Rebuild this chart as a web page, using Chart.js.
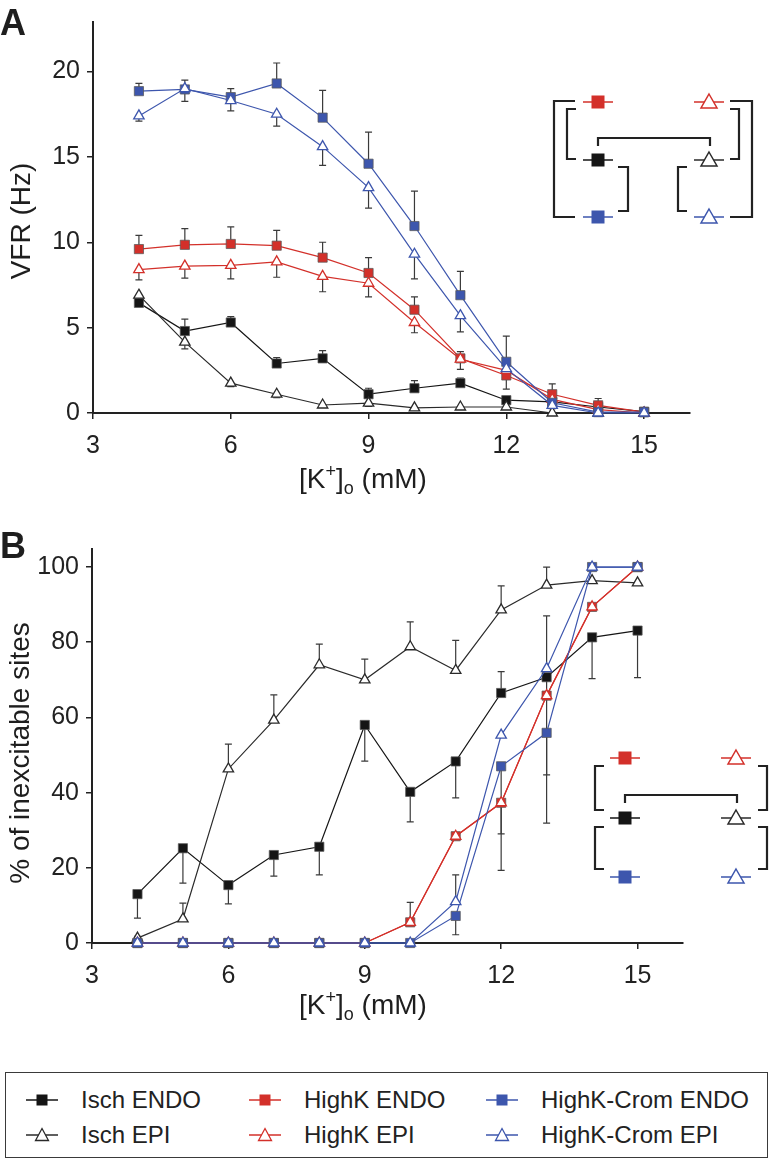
<!DOCTYPE html>
<html>
<head>
<meta charset="utf-8">
<script src="https://cdn.jsdelivr.net/npm/chart.js@4.4.1/dist/chart.umd.min.js"></script>
<style>
  html, body { margin: 0; padding: 0; background: #fff; }
  #page { position: relative; width: 773px; height: 1160px; overflow: hidden;
          font-family: "Liberation Sans", Arial, Helvetica, sans-serif; color: #222; }
  #chartA { position: absolute; left: 0; top: 0; }
  #chartB { position: absolute; left: 0; top: 500px; }
  #legend { position: absolute; left: 5px; top: 1072px; width: 763px; height: 86px;
            box-sizing: border-box; border: 1.5px solid #3a3a3a; padding: 9px 0 0 20px;
            display: grid; grid-template-columns: 223px 237px auto; grid-template-rows: 35px 35px;
            grid-auto-flow: row; }
  .item { display: flex; align-items: center; gap: 23px; font-size: 24px; white-space: nowrap; }
  .item svg { flex: none; }
</style>
</head>
<body>
<div id="page">
  <canvas id="chartA" width="773" height="500"></canvas>
  <canvas id="chartB" width="773" height="530"></canvas>
  <div id="legend"></div>
</div>
<script>
(function() {

  var FONT = '"Liberation Sans", Arial, Helvetica, sans-serif';

  var kValues = [4, 5, 6, 7, 8, 9, 10, 11, 12, 13, 14, 15];
  var kTicks = [3, 6, 9, 12, 15];
  var vfrTicks = [0, 5, 10, 15, 20];
  var pctTicks = [0, 20, 40, 60, 80, 100];

  var seriesNames = ['Isch ENDO', 'Isch EPI', 'HighK ENDO', 'HighK EPI', 'HighK-Crom ENDO', 'HighK-Crom EPI'];
  var seriesColors = ['#151515', '#2a2a2a', '#d3302a', '#d3302a', '#3d56ad', '#3d56ad'];
  var seriesShapes = ['rect', 'triangle', 'rect', 'triangle', 'rect', 'triangle'];
  var seriesOrder = [6, 5, 4, 3, 2, 1];

  // A: VFR (Hz)
  var vfrIschEndo  = [6.45, 4.8, 5.3, 2.9, 3.2, 1.1, 1.45, 1.75, 0.75, 0.65, 0.35, 0.08];
  var vfrIschEpi   = [6.9, 4.15, 1.75, 1.1, 0.47, 0.58, 0.3, 0.35, 0.35, 0, 0, 0];
  var vfrHighKEndo = [9.6, 9.85, 9.9, 9.8, 9.1, 8.2, 6.05, 3.2, 2.2, 1.1, 0.45, 0.05];
  var vfrHighKEpi  = [8.4, 8.6, 8.65, 8.85, 8.0, 7.6, 5.3, 3.15, 2.5, 0.8, 0.2, 0];
  var vfrCromEndo  = [18.85, 18.95, 18.5, 19.3, 17.3, 14.6, 10.95, 6.9, 3.0, 0.6, 0.05, 0.05];
  var vfrCromEpi   = [17.4, 19.0, 18.3, 17.5, 15.6, 13.2, 9.3, 5.7, 2.6, 0.45, 0, 0];
  // error bars (sem), + drawn upward, - drawn downward
  var vfrIschEndoErr  = [0.2, 0.7, 0.35, 0.35, 0.45, 0.35, 0.45, 0.3, 0.2, 0.1, 0.1, 0];
  var vfrIschEpiErr   = [-0.3, -0.4, -0.2, -0.2, -0.1, -0.2, -0.1, -0.1, -0.1, 0, 0, 0];
  var vfrHighKEndoErr = [0.8, 0.95, 1.0, 0.9, 0.9, 0.9, 0.75, 0.4, 0.4, 0.6, 0.4, 0];
  var vfrHighKEpiErr  = [-0.6, -0.7, -0.8, -0.9, -0.9, -0.8, -0.6, -0.6, -1.1, -0.3, -0.1, 0];
  var vfrCromEndoErr  = [0.45, 0.55, 0.5, 1.2, 1.6, 1.85, 2.05, 1.4, 1.5, 0.3, 0.1, 0];
  var vfrCromEpiErr   = [-0.3, -0.75, -0.6, -0.7, -1.1, -1.2, -1.45, -0.95, -0.5, -0.2, 0, 0];

  // B: % of inexcitable sites
  var pctIschEndo  = [13.0, 25.2, 15.4, 23.4, 25.6, 58.0, 40.2, 48.3, 66.5, 70.7, 81.3, 83.1];
  var pctIschEpi   = [1.3, 6.4, 46.3, 59.3, 74.0, 70.0, 78.8, 72.5, 88.6, 95.2, 96.4, 95.8];
  var pctHighKEndo = [0, 0, 0, 0, 0, 0, 5.5, 28.4, 37.3, 65.8, 89.4, 100];
  var pctHighKEpi  = [0, 0, 0, 0, 0, 0, 5.5, 28.4, 37.3, 65.8, 89.4, 100];
  var pctCromEndo  = [0, 0, 0, 0, 0, 0, 0, 7.2, 47.0, 55.9, 100, 100];
  var pctCromEpi   = [0, 0, 0, 0, 0, 0, 0, 11.0, 55.3, 73.0, 100, 100];
  var pctIschEndoErr  = [-6.4, -9.3, -5.0, -5.6, -7.5, -9.6, -8.0, -9.7, 5.7, -26.0, -11.0, -12.5];
  var pctIschEpiErr   = [0.5, 4.2, 6.6, 6.7, 5.5, 5.5, 6.6, 8.0, 6.4, 4.8, 0, 0];
  var pctHighKEndoErr = [0, 0, 0, 0, 0, 0, 5.3, 0, -18.0, 0, 0, 0];
  var pctHighKEpiErr  = [0, 0, 0, 0, 0, 0, 0, 0, 0, 0, 0, 0];
  var pctCromEndoErr  = [0, 0, 0, 0, 0, 0, 0, -5.0, -18.0, -24.0, 0, 0];
  var pctCromEpiErr   = [0, 0, 0, 0, 0, 0, 0, 7.1, 0, 14.0, 0, 0];

  function toPoints(values) {
    return kValues.map(function(k, i) { return { x: k, y: values[i] }; });
  }

  function makeDataset(i, values, errors) {
    var isRect = seriesShapes[i] === 'rect';
    return {
      label: seriesNames[i],
      data: toPoints(values),
      errors: errors,
      order: seriesOrder[i],
      borderColor: seriesColors[i],
      borderWidth: 1.2,
      tension: 0,
      clip: false,
      pointStyle: seriesShapes[i],
      pointRadius: isRect ? 6.5 : 6,
      pointBorderWidth: isRect ? 1 : 1.3,
      pointBackgroundColor: isRect ? seriesColors[i] : '#ffffff',
      pointBorderColor: isRect ? 'rgba(90,90,90,0.75)' : seriesColors[i]
    };
  }

  var errorBars = {
    id: 'errorBars',
    beforeDatasetsDraw: function(chart) {
      var ctx = chart.ctx;
      var yScale = chart.scales.y;
      ctx.save();
      ctx.strokeStyle = '#3a3a3a';
      ctx.lineWidth = 1.2;
      chart.data.datasets.forEach(function(ds, i) {
        if (!ds.errors) return;
        var meta = chart.getDatasetMeta(i);
        meta.data.forEach(function(pt, j) {
          var e = ds.errors[j];
          if (!e) return;
          var y1 = yScale.getPixelForValue(ds.data[j].y + e);
          ctx.beginPath();
          ctx.moveTo(pt.x, pt.y);
          ctx.lineTo(pt.x, y1);
          ctx.moveTo(pt.x - 3.5, y1);
          ctx.lineTo(pt.x + 3.5, y1);
          ctx.stroke();
        });
      });
      ctx.restore();
    }
  };

  function drawKTitle(ctx, cx, baseline) {
    var parts = [
      { t: '[K', size: 28, dy: 0 },
      { t: '+', size: 18, dy: -11 },
      { t: ']', size: 28, dy: 0 },
      { t: 'o', size: 18, dy: 6 },
      { t: ' (mM)', size: 28, dy: 0 }
    ];
    var total = 0;
    parts.forEach(function(p) {
      ctx.font = p.size + 'px ' + FONT;
      p.w = ctx.measureText(p.t).width;
      total += p.w;
    });
    var x = cx - total / 2;
    ctx.textAlign = 'left';
    ctx.textBaseline = 'alphabetic';
    parts.forEach(function(p) {
      ctx.font = p.size + 'px ' + FONT;
      ctx.fillText(p.t, x, baseline + p.dy);
      x += p.w;
    });
  }

  var axisTitles = {
    id: 'axisTitles',
    afterDraw: function(chart, args, opts) {
      var ctx = chart.ctx;
      ctx.save();
      ctx.fillStyle = '#1e1e1e';
      ctx.font = 'bold 36px ' + FONT;
      ctx.textAlign = 'left';
      ctx.textBaseline = 'alphabetic';
      ctx.fillText(opts.letter, 0, opts.letterY);

      ctx.save();
      ctx.font = '28px ' + FONT;
      ctx.translate(opts.yTitleX, opts.yTitleY);
      ctx.rotate(-Math.PI / 2);
      ctx.textAlign = 'center';
      ctx.textBaseline = 'middle';
      ctx.fillText(opts.yTitle, 0, 0);
      ctx.restore();

      drawKTitle(ctx, opts.xTitleX, opts.xTitleY);
      ctx.restore();
    }
  };

  // small key of symbols with comparison brackets inside each panel
  var keyRow = [1, 1, 0, 0, 2, 2];
  var keyCol = [0, 1, 0, 1, 0, 1];

  var insetKey = {
    id: 'insetKey',
    afterDraw: function(chart, args, opts) {
      if (!opts.cols) return;
      var ctx = chart.ctx;
      ctx.save();
      ctx.strokeStyle = '#222';
      ctx.lineWidth = 2.2;
      ctx.lineJoin = 'miter';
      opts.brackets.forEach(function(b) {
        ctx.beginPath();
        b.forEach(function(p, i) {
          if (i === 0) ctx.moveTo(p[0], p[1]); else ctx.lineTo(p[0], p[1]);
        });
        ctx.stroke();
      });
      seriesNames.forEach(function(name, i) {
        var x = opts.cols[keyCol[i]];
        var y = opts.rows[keyRow[i]];
        var c = seriesColors[i];
        ctx.strokeStyle = c;
        ctx.lineWidth = 1.5;
        ctx.beginPath();
        ctx.moveTo(x - 15, y);
        ctx.lineTo(x + 15, y);
        ctx.stroke();
        if (seriesShapes[i] === 'rect') {
          ctx.fillStyle = c;
          ctx.fillRect(x - 6.5, y - 6.5, 13, 13);
        } else {
          ctx.fillStyle = '#fff';
          ctx.lineWidth = 1.5;
          ctx.beginPath();
          ctx.moveTo(x, y - 8);
          ctx.lineTo(x + 8, y + 6);
          ctx.lineTo(x - 8, y + 6);
          ctx.closePath();
          ctx.fill();
          ctx.stroke();
        }
      });
      ctx.restore();
    }
  };

  function buildChart(canvasId, cfg) {
    var datasets = cfg.values.map(function(vals, i) { return makeDataset(i, vals, cfg.errors[i]); });
    return new Chart(document.getElementById(canvasId), {
      type: 'line',
      data: { datasets: datasets },
      options: {
        responsive: false,
        animation: false,
        layout: { padding: { top: cfg.top, right: cfg.right, left: 0, bottom: 0 } },
        plugins: {
          legend: { display: false },
          tooltip: { enabled: false },
          axisTitles: cfg.titles,
          insetKey: cfg.inset
        },
        scales: {
          x: {
            type: 'linear',
            min: 3,
            max: 16,
            afterBuildTicks: function(s) { s.ticks = kTicks.map(function(v) { return { value: v }; }); },
            afterFit: function(s) { s.height = cfg.xAxisHeight; },
            grid: { display: true, drawOnChartArea: false, drawTicks: true, tickLength: 6, color: '#222', lineWidth: 1.5 },
            border: { display: true, color: '#222', width: 2 },
            ticks: { font: { family: FONT, size: 25 }, color: '#222', padding: 12, maxRotation: 0, autoSkip: false }
          },
          y: {
            type: 'linear',
            min: 0,
            max: cfg.yMax,
            afterBuildTicks: function(s) { s.ticks = cfg.yTicks.map(function(v) { return { value: v }; }); },
            afterFit: function(s) { s.width = cfg.yAxisWidth; },
            grid: { display: true, drawOnChartArea: false, drawTicks: true, tickLength: 6, color: '#222', lineWidth: 1.5 },
            border: { display: true, color: '#222', width: 2 },
            ticks: { font: { family: FONT, size: 25 }, color: '#222', padding: 7, autoSkip: false }
          }
        }
      },
      plugins: [errorBars, axisTitles, insetKey]
    });
  }

  buildChart('chartA', {
    values: [vfrIschEndo, vfrIschEpi, vfrHighKEndo, vfrHighKEpi, vfrCromEndo, vfrCromEpi],
    errors: [vfrIschEndoErr, vfrIschEpiErr, vfrHighKEndoErr, vfrHighKEpiErr, vfrCromEndoErr, vfrCromEpiErr],
    yMax: 22.9,
    yTicks: vfrTicks,
    top: 20,
    right: 83,
    yAxisWidth: 93,
    xAxisHeight: 87,
    titles: { letter: 'A', letterY: 35, yTitle: 'VFR (Hz)', yTitleX: 22, yTitleY: 221, xTitleX: 363, xTitleY: 488 },
    inset: {
      cols: [598, 709],
      rows: [102, 160, 217],
      brackets: [
        [[575, 101], [554, 101], [554, 217], [575, 217]],
        [[576, 109], [567, 109], [567, 159], [576, 159]],
        [[598, 146], [598, 138], [710, 138], [710, 146]],
        [[618, 167], [628, 167], [628, 211], [618, 211]],
        [[687, 167], [678, 167], [678, 211], [687, 211]],
        [[730, 109], [739, 109], [739, 159], [730, 159]],
        [[730, 101], [752, 101], [752, 217], [730, 217]]
      ]
    }
  });

  buildChart('chartB', {
    values: [pctIschEndo, pctIschEpi, pctHighKEndo, pctHighKEpi, pctCromEndo, pctCromEpi],
    errors: [pctIschEndoErr, pctIschEpiErr, pctHighKEndoErr, pctHighKEpiErr, pctCromEndoErr, pctCromEpiErr],
    yMax: 104.8,
    yTicks: pctTicks,
    top: 49,
    right: 90,
    yAxisWidth: 92,
    xAxisHeight: 87,
    titles: { letter: 'B', letterY: 58, yTitle: '% of inexcitable sites', yTitleX: 21, yTitleY: 253, xTitleX: 363, xTitleY: 514 },
    inset: {
      cols: [625, 736],
      rows: [258, 318, 377],
      brackets: [
        [[604, 266], [595, 266], [595, 310], [604, 310]],
        [[604, 327], [595, 327], [595, 369], [604, 369]],
        [[625, 303], [625, 295], [737, 295], [737, 303]],
        [[758, 266], [767, 266], [767, 310], [758, 310]],
        [[758, 327], [767, 327], [767, 369], [758, 369]]
      ]
    }
  });

  // bottom legend: ENDO on the first row, EPI on the second
  function keyIcon(i) {
    var c = seriesColors[i];
    var s = '<svg width="32" height="16" viewBox="0 0 32 16">' +
      '<line x1="0" y1="8" x2="32" y2="8" stroke="' + c + '" stroke-width="1.5"/>';
    if (seriesShapes[i] === 'rect') {
      s += '<rect x="10.5" y="2.5" width="11" height="11" fill="' + c + '"/>';
    } else {
      s += '<polygon points="16,1.5 22.5,13.5 9.5,13.5" fill="#fff" stroke="' + c + '" stroke-width="1.3"/>';
    }
    return s + '</svg>';
  }

  var legendOrder = [0, 2, 4, 1, 3, 5];
  var legend = document.getElementById('legend');
  legendOrder.forEach(function(i) {
    var item = document.createElement('div');
    item.className = 'item';
    item.innerHTML = keyIcon(i) + '<span>' + seriesNames[i] + '</span>';
    legend.appendChild(item);
  });

})();
</script>
</body>
</html>
